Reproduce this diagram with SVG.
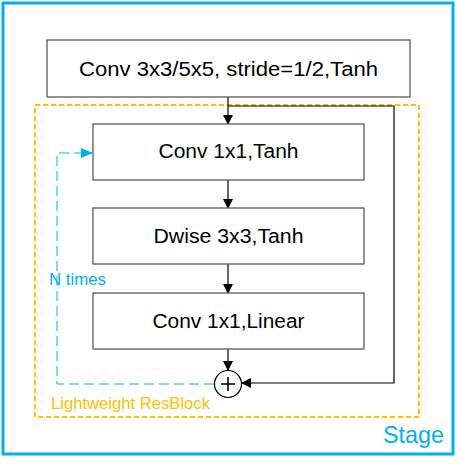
<svg xmlns="http://www.w3.org/2000/svg" width="457" height="464" viewBox="0 0 457 464">
<defs>
<style>
.box{fill:#fff;stroke:#595959;stroke-width:1.3}
.t{font-family:"Liberation Sans",Arial,sans-serif;font-size:20px;fill:#000;text-anchor:middle}
.ln{fill:none;stroke:#000;stroke-width:1.2}
</style>
<marker id="ah" markerWidth="10" markerHeight="10" refX="9" refY="5" orient="auto" markerUnits="userSpaceOnUse" viewBox="0 0 10 10"><path d="M0,0 L10,5 L0,10 z" fill="#000"/></marker>
<marker id="ahb" markerWidth="12" markerHeight="10" refX="11" refY="5" orient="auto" markerUnits="userSpaceOnUse" viewBox="0 0 12 10"><path d="M0,0 L12,5 L0,10 z" fill="#00B0F0"/></marker>
</defs>
<rect id="stage" x="3" y="3" width="450" height="451" fill="#fff" stroke="#00B0F0" stroke-width="3"/>
<text x="444" y="443" font-family="Liberation Sans,Arial,sans-serif" font-size="24" fill="#00B0F0" text-anchor="end" textLength="61" lengthAdjust="spacingAndGlyphs">Stage</text>
<rect id="resblock" x="35" y="105" width="384" height="312" fill="none" stroke="#FFC000" stroke-width="2" stroke-dasharray="5,3"/>
<text x="51" y="409" font-family="Liberation Sans,Arial,sans-serif" font-size="16.5" fill="#FFC000" textLength="159" lengthAdjust="spacingAndGlyphs">Lightweight ResBlock</text>
<g id="connectors">
<line class="ln" x1="228" y1="97" x2="228" y2="124" marker-end="url(#ah)"/>
<polyline class="ln" points="228,106 394,106 394,383 242,383" marker-end="url(#ah)"/>
<line class="ln" x1="228" y1="180" x2="228" y2="208" marker-end="url(#ah)"/>
<line class="ln" x1="228" y1="264" x2="228" y2="293" marker-end="url(#ah)"/>
<line class="ln" x1="228" y1="349" x2="228" y2="370" marker-end="url(#ah)"/>
<polyline points="214,384 57,384 57,153 92,153" fill="none" stroke="#00B0F0" stroke-width="1" stroke-dasharray="10,5" marker-end="url(#ahb)"/>
</g>
<text x="49" y="285" font-family="Liberation Sans,Arial,sans-serif" font-size="16.5" fill="#00B0F0" textLength="57" lengthAdjust="spacingAndGlyphs">N times</text>
<g id="n0"><rect class="box" x="47" y="40" width="363" height="57"/><text class="t" x="228.5" y="76" textLength="299" lengthAdjust="spacingAndGlyphs">Conv 3x3/5x5, stride=1/2,Tanh</text></g>
<g id="n1"><rect class="box" x="93" y="124" width="271" height="56"/><text class="t" x="228.5" y="158" textLength="140" lengthAdjust="spacingAndGlyphs">Conv 1x1,Tanh</text></g>
<g id="n2"><rect class="box" x="93" y="208" width="271" height="56"/><text class="t" x="228.5" y="243" textLength="150" lengthAdjust="spacingAndGlyphs">Dwise 3x3,Tanh</text></g>
<g id="n3"><rect class="box" x="93" y="293" width="271" height="56"/><text class="t" x="228.5" y="328" textLength="152" lengthAdjust="spacingAndGlyphs">Conv 1x1,Linear</text></g>
<g id="add"><circle cx="228" cy="384" r="13.5" fill="#fff" stroke="#000" stroke-width="1.2"/><path d="M221,384 H235 M228,377 V391" stroke="#000" stroke-width="1.6"/></g>
</svg>
